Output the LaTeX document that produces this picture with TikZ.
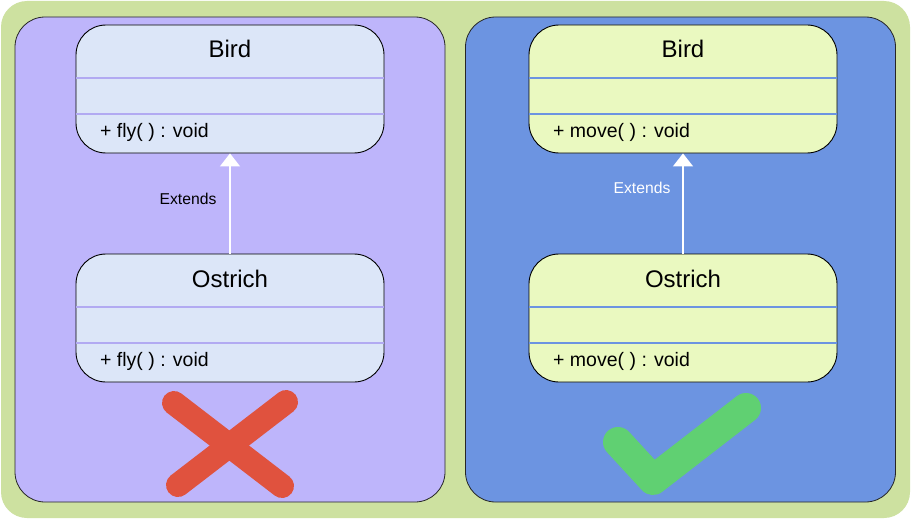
\documentclass[tikz,border=0pt]{standalone}
\usepackage{fontspec}
\setmainfont{Liberation Sans}
\usetikzlibrary{arrows.meta}
\definecolor{bggreen}{RGB}{205,225,160}
\definecolor{lavpanel}{RGB}{190,181,251}
\definecolor{bluepanel}{RGB}{108,148,225}
\definecolor{lboxfill}{RGB}{220,230,248}
\definecolor{rboxfill}{RGB}{234,249,192}
\definecolor{lsep}{RGB}{178,170,242}
\definecolor{rsep}{RGB}{108,148,225}
\definecolor{crossred}{RGB}{224,82,62}
\definecolor{checkgreen}{RGB}{96,208,114}
\tikzset{
  panel/.style={draw=black!85, line width=0.8pt, rounded corners=30pt, minimum width=430pt, minimum height=485pt, inner sep=0pt},
  classbox/.style={draw=black, line width=0.9pt, rounded corners=30pt, minimum width=308pt, minimum height=128pt, inner sep=0pt},
  title/.style={font=\fontsize{24}{28}\selectfont, inner sep=0pt},
  method/.style={font=\fontsize{19.5}{22}\selectfont, inner sep=0pt, anchor=west},
  extlabel/.style={font=\fontsize{15.7}{18}\selectfont, inner sep=0pt},
  inherit/.style={draw=white, line width=1.6pt, -{Triangle[width=20pt,length=13pt]}},
}
\begin{document}
\begin{tikzpicture}[x=1pt,y=-1pt]
\useasboundingbox (0,0) rectangle (911,519);
\fill[white] (0,0) rectangle (911,519);
\fill[bggreen, rounded corners=26pt] (1,1) rectangle (910,518);
% panels
\node[panel, fill=lavpanel] (lp) at (230,259.5) {};
\node[panel, fill=bluepanel] (rp) at (680.5,259.5) {};
% left boxes
\node[classbox, fill=lboxfill] (lbird) at (230,89) {};
\node[classbox, fill=lboxfill] (lost) at (230,318) {};
% right boxes
\node[classbox, fill=rboxfill] (rbird) at (683,89) {};
\node[classbox, fill=rboxfill] (rost) at (683,318) {};
% separators
\foreach \b/\c in {lbird/lsep,lost/lsep,rbird/rsep,rost/rsep}{
  \draw[\c, line width=2pt] ([yshift=-53pt,xshift=0.8pt]\b.north west) -- ([yshift=-53pt,xshift=-0.8pt]\b.north east);
  \draw[\c, line width=2pt] ([yshift=-89pt,xshift=0.8pt]\b.north west) -- ([yshift=-89pt,xshift=-0.8pt]\b.north east);
}
% texts
\node[title] (t1) at (230,48.5) {Bird};
\node[title] (t2) at (230,278.5) {Ostrich};
\node[title] (t3) at (683,48.5) {Bird};
\node[title] (t4) at (683,278.5) {Ostrich};
\node[method] (m1) at (100,132.5) {+ fly( ) : void};
\node[method] (m2) at (100,361.5) {+ fly( ) : void};
\node[method] (m3) at (553,132.5) {+ move( ) : void};
\node[method] (m4) at (553,361.5) {+ move( ) : void};
% inheritance arrows
\draw[inherit] (lost.north) -- (lbird.south);
\draw[inherit] (rost.north) -- (rbird.south);
\node[extlabel, text=black] (e1) at (188,198.5) {Extends};
\node[extlabel, text=white] (e2) at (642,187.5) {Extends};
% cross
\coordinate (x1) at (174,403);
\coordinate (x2) at (282,486);
\coordinate (x3) at (286,402);
\coordinate (x4) at (178,485);
\draw[crossred, line width=24pt, line cap=round] (x1) -- (x2);
\draw[crossred, line width=24pt, line cap=round] (x3) -- (x4);
% check
\coordinate (c1) at (618,442);
\coordinate (c2) at (653,480);
\coordinate (c3) at (746,408);
\draw[checkgreen, line width=30pt, line cap=round, line join=round] (c1) -- (c2) -- (c3);
\end{tikzpicture}
\end{document}
